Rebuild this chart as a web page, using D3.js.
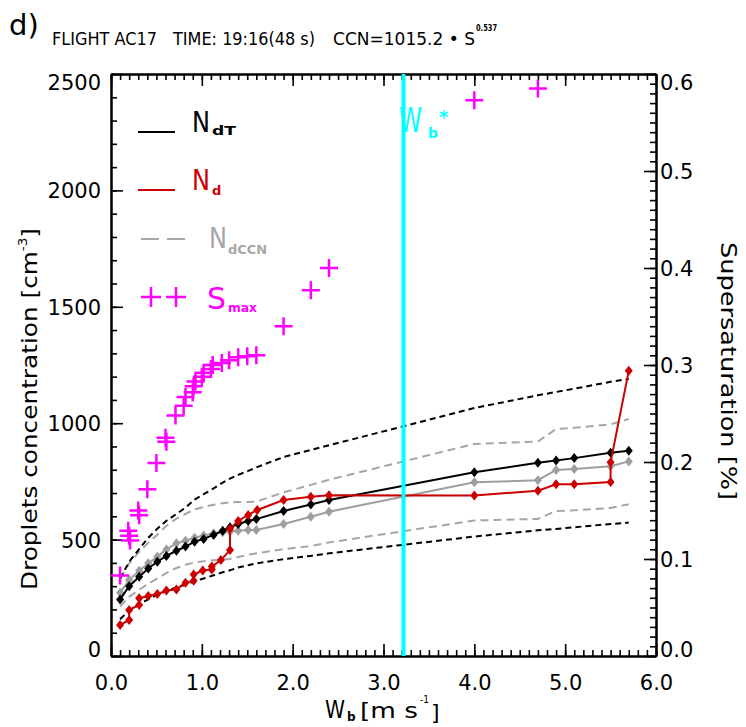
<!DOCTYPE html>
<html>
<head>
<meta charset="utf-8">
<script src="https://d3js.org/d3.v7.min.js"></script>
<style>
  body { margin: 0; background: #fff; }
  svg text { font-family: "DejaVu Sans", sans-serif; }
</style>
</head>
<body>
<script>
// updraft velocity W_b [m/s] of the parcel runs
var wb = [0.10,0.20,0.31,0.41,0.51,0.61,0.72,0.82,0.92,1.02,1.13,1.23,1.31,1.40,1.51,1.60,1.90,2.20,2.40,4.00,4.70,4.90,5.10,5.50,5.70];
// droplet concentrations [cm-3]
var ndT   = [243,300,340,376,405,430,452,470,491,503,520,538,553,567,580,588,623,651,670,789,830,840,850,873,882];
var ndCCN = [272,326,366,398,427,458,484,495,508,518,527,532,534,538,541,541,567,598,620,746,755,799,803,815,836];
// dashed envelopes
var ndTHigh = [332,405,459,508,547,581,610,637,672,695,720,745,762,778,795,810,855,885,905,1065,1120,1134,1148,1178,1190];
var ndTLow  = [158,195,221,244,263,280,294,306,321,333,347,360,368,380,390,398,416,430,441,513,540,546,553,567,573];
var ccnHigh = [332,398,447,486,521,559,590,610,630,640,650,656,660,661,662,663,703,735,757,911,921,975,980,995,1018];
var ccnLow  = [212,254,285,310,333,357,378,392,402,407,411,414,417,425,435,441,459,472,488,582,589,623,626,636,652];

// N_d has its own (repeated) W values
var wbNd = [0.10,0.20,0.20,0.31,0.31,0.41,0.51,0.61,0.72,0.82,0.91,0.91,1.01,1.11,1.11,1.21,1.31,1.31,1.40,1.51,1.61,1.90,2.20,2.40,4.00,4.70,4.90,5.10,5.50,5.50,5.70];
var nd   = [133,155,198,219,248,258,266,281,286,315,323,350,367,372,384,412,455,546,580,606,627,670,684,690,689,710,738,738,747,832,1225];

// maximum supersaturation [%]
var wbSmax = [0.10,0.19,0.20,0.21,0.30,0.31,0.40,0.50,0.60,0.61,0.71,0.80,0.82,0.90,0.91,0.93,1.00,1.02,1.10,1.12,1.22,1.30,1.40,1.50,1.60,1.90,2.20,2.40,4.00,4.70];
var smax   = [0.083,0.129,0.124,0.119,0.150,0.145,0.172,0.199,0.225,0.221,0.248,0.258,0.267,0.272,0.278,0.283,0.288,0.292,0.296,0.300,0.302,0.305,0.308,0.309,0.310,0.340,0.377,0.400,0.573,0.585];

var wbStar = 3.22;

var xTicks = [0,1,2,3,4,5,6];
var yTicks = [0,500,1000,1500,2000,2500];
var sTicks = [0,0.1,0.2,0.3,0.4,0.5,0.6];

var padL = 111, padT = 74, plotW = 545, plotH = 582;

var svg = d3.select("body").append("svg")
  .attr("width", 746).attr("height", 727);

var g = svg.append("g").attr("transform", "translate(" + padL + "," + padT + ")");

var x = d3.scaleLinear().domain([0, 6]).range([0, plotW]);
var y = d3.scaleLinear().domain([0, 2500]).range([plotH, 0]);
var y2 = d3.scaleLinear().domain([0, 0.6]).range([plotH, 0]);

function styleAxis(sel) {
  sel.attr("font-size", 21).attr("font-family", "DejaVu Sans");
  sel.selectAll(".domain").attr("stroke", "#000").attr("stroke-width", 2);
  sel.selectAll(".tick line").attr("stroke", "#000").attr("stroke-width", 1.6);
  sel.selectAll(".tick text").attr("fill", "#000");
}

// minor ticks
var xMinor = d3.range(0, 61).map(function(i){ return i / 10; });
var yMinor = d3.range(0, 26).map(function(i){ return i * 100; });
var sMinor = d3.range(0, 61).map(function(i){ return i / 100; });

g.append("g").attr("transform", "translate(0," + plotH + ")")
  .call(d3.axisBottom(x).tickValues(xMinor).tickSize(-6).tickSizeOuter(0).tickFormat("")).call(styleAxis);
g.append("g")
  .call(d3.axisTop(x).tickValues(xMinor).tickSize(-6).tickSizeOuter(0).tickFormat("")).call(styleAxis);
g.append("g")
  .call(d3.axisLeft(y).tickValues(yMinor).tickSize(-6).tickSizeOuter(0).tickFormat("")).call(styleAxis);
g.append("g").attr("transform", "translate(" + plotW + ",0)")
  .call(d3.axisRight(y2).tickValues(sMinor).tickSize(-6).tickSizeOuter(0).tickFormat("")).call(styleAxis);

// major ticks
g.append("g").attr("transform", "translate(0," + plotH + ")")
  .call(d3.axisBottom(x).tickValues(xTicks).tickSize(-12).tickSizeOuter(0).tickPadding(19).tickFormat(d3.format(".1f")))
  .call(styleAxis);
g.append("g")
  .call(d3.axisTop(x).tickValues(xTicks).tickSize(-12).tickSizeOuter(0).tickFormat(""))
  .call(styleAxis);
var yAx = g.append("g")
  .call(d3.axisLeft(y).tickValues(yTicks).tickSize(-12).tickSizeOuter(0).tickPadding(10).tickFormat(d3.format("d")))
  .call(styleAxis);
var sAx = g.append("g").attr("transform", "translate(" + plotW + ",0)")
  .call(d3.axisRight(y2).tickValues(sTicks).tickSize(-12).tickSizeOuter(0).tickPadding(4).tickFormat(d3.format(".1f")))
  .call(styleAxis);

// end labels sit inside the axis range, like the original
[yAx, sAx].forEach(function(ax) {
  ax.selectAll(".tick text").attr("dy", function(d, i, n) {
    if (i === 0) return "0em";
    if (i === n.length - 1) return "0.74em";
    return "0.36em";
  });
});

// lines
function lineOf(xs) {
  return d3.line().x(function(d, i){ return x(xs[i]); }).y(function(d){ return y(d); });
}

function dashed(vals, col, dash) {
  g.append("path").datum(vals).attr("d", lineOf(wb))
    .attr("fill", "none").attr("stroke", col).attr("stroke-width", 2)
    .attr("stroke-dasharray", dash);
}
dashed(ccnHigh, "#a6a6a6", "8,5");
dashed(ccnLow, "#a6a6a6", "8,5");
dashed(ndTHigh, "#000", "6,4");
dashed(ndTLow, "#000", "6,4");

var diamond = "M0,-5L4,0L0,5L-4,0Z";

function solid(xs, vals, col) {
  g.append("path").datum(vals).attr("d", lineOf(xs))
    .attr("fill", "none").attr("stroke", col).attr("stroke-width", 2);
  g.append("g").selectAll("path").data(vals).join("path")
    .attr("d", diamond)
    .attr("transform", function(d, i){ return "translate(" + x(xs[i]) + "," + y(d) + ")"; })
    .attr("fill", col);
}
solid(wb, ndCCN, "#9e9e9e");
solid(wb, ndT, "#000");
solid(wbNd, nd, "#cc0000");

// W_b* line
g.append("line")
  .attr("x1", x(wbStar)).attr("x2", x(wbStar)).attr("y1", 0).attr("y2", plotH)
  .attr("stroke", "#00ffff").attr("stroke-width", 4);

// S_max crosses on the right axis
var plus = "M-9,0H9M0,-9V9";
g.append("g").selectAll("path").data(smax).join("path")
  .attr("d", plus)
  .attr("transform", function(d, i){ return "translate(" + x(wbSmax[i]) + "," + y2(d) + ")"; })
  .attr("stroke", "#ff00ff").attr("stroke-width", 2.5).attr("fill", "none");

// texts
function txt(s, px, py, size, col, opts) {
  opts = opts || {};
  var t = svg.append("text").attr("x", px).attr("y", py)
    .attr("font-size", size).attr("fill", col || "#000").text(s);
  if (opts.w) t.attr("textLength", opts.w).attr("lengthAdjust", "spacingAndGlyphs");
  if (opts.bold) t.attr("font-weight", "bold");
  if (opts.anchor) t.attr("text-anchor", opts.anchor);
  return t;
}

txt("d)", 9, 35, 29);
txt("FLIGHT AC17", 52, 45, 18, "#000", {w: 105});
txt("TIME: 19:16(48 s)", 173, 45, 18, "#000", {w: 142});
txt("CCN=1015.2 \u2022 S", 333, 45, 18, "#000", {w: 142});
txt("0.537", 476, 31, 9, "#000", {w: 21, bold: true});

// W_b* label
txt("W", 399, 132, 33, "#00ffff", {w: 23});
txt("b", 428, 138, 14, "#00ffff", {bold: true});
txt("*", 439, 123, 18, "#00ffff", {bold: true});

// legend
var legendLines = svg.append("g");
legendLines.append("line").attr("x1", 138).attr("x2", 175).attr("y1", 132).attr("y2", 132)
  .attr("stroke", "#000").attr("stroke-width", 2);
legendLines.append("line").attr("x1", 138).attr("x2", 175).attr("y1", 190).attr("y2", 190)
  .attr("stroke", "#cc0000").attr("stroke-width", 2);
legendLines.append("line").attr("x1", 141).attr("x2", 187).attr("y1", 239).attr("y2", 239)
  .attr("stroke", "#a6a6a6").attr("stroke-width", 2).attr("stroke-dasharray", "18,8");
[151, 176].forEach(function(cx) {
  legendLines.append("path").attr("d", "M-10,0H10M0,-10V10")
    .attr("transform", "translate(" + cx + ",297)")
    .attr("stroke", "#ff00ff").attr("stroke-width", 2.5);
});

txt("N", 192, 132, 29, "#000", {w: 18});
txt("dT", 212, 135, 13, "#000", {bold: true, w: 24});
txt("N", 192, 190, 29, "#cc0000", {w: 18});
txt("d", 212, 195, 13, "#cc0000", {bold: true});
txt("N", 209, 248, 29, "#a6a6a6", {w: 18});
txt("dCCN", 228, 254, 13, "#a6a6a6", {bold: true, w: 39});
txt("S", 207, 309, 31, "#ff00ff", {w: 19});
txt("max", 228, 312, 13, "#ff00ff", {bold: true, w: 29});

// axis titles
var yl = svg.append("text").attr("font-size", 22).attr("text-anchor", "middle")
  .attr("transform", "translate(37,409) rotate(-90)")
  .attr("textLength", 362).attr("lengthAdjust", "spacingAndGlyphs");
yl.append("tspan").text("Droplets concentration [cm");
yl.append("tspan").attr("font-size", 12).attr("dy", -10).text("-3");
yl.append("tspan").attr("dy", 10).text("]");

svg.append("text").attr("font-size", 22)
  .attr("transform", "translate(721,242) rotate(90)")
  .attr("textLength", 258).attr("lengthAdjust", "spacingAndGlyphs")
  .text("Supersaturation [%]");

txt("W", 325, 718, 24, "#000", {w: 20});
txt("b", 347, 721, 12, "#000", {bold: true});
txt("[m  s", 360, 718, 22, "#000", {w: 58});
txt("-1", 420, 703, 11, "#000", {w: 9});
txt("]", 431, 720, 22, "#000");
</script>
</body>
</html>
